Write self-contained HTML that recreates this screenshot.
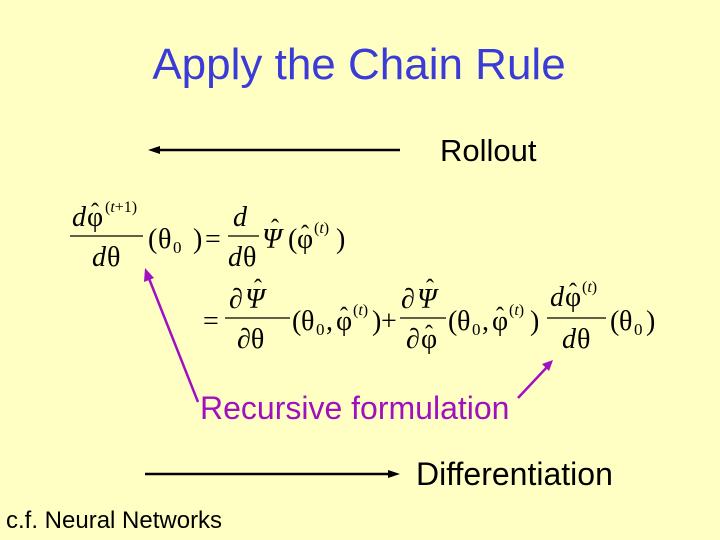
<!DOCTYPE html>
<html><head><meta charset="utf-8"><style>
html,body{margin:0;padding:0}
body{width:720px;height:540px;background:#FFFFC4;position:relative;overflow:hidden;font-family:"Liberation Sans",sans-serif}
.t{position:absolute;white-space:nowrap;line-height:1}
</style></head><body>
<div class="t" style="left:0;width:718px;text-align:center;top:43px;font-size:44px;color:#3B3BD8">Apply the Chain Rule</div>
<div class="t" style="left:440px;top:135px;font-size:31px;color:#000">Rollout</div>
<div class="t" style="left:200px;top:392px;font-size:32px;color:#A010C0">Recursive formulation</div>
<div class="t" style="left:416px;top:458px;font-size:32px;color:#000">Differentiation</div>
<div class="t" style="left:6px;top:509px;font-size:24px;color:#000">c.f. Neural Networks</div>
<svg width="720" height="540" style="position:absolute;left:0;top:0" font-family="Liberation Serif,serif" fill="#000">
<line x1="158" y1="150" x2="400" y2="150" stroke="#000" stroke-width="2.5"/>
<polygon points="148,150 160,146 160,154"/>
<line x1="145" y1="474" x2="390" y2="474" stroke="#000" stroke-width="2.5"/>
<polygon points="400,474 388,470 388,478"/>
<line x1="198" y1="402" x2="148" y2="276" stroke="#A010C0" stroke-width="2.5"/>
<polygon points="145,268 144,282 154,278" fill="#A010C0"/>
<line x1="518" y1="398" x2="548" y2="366" stroke="#A010C0" stroke-width="2.5"/>
<polygon points="553,360 542,364 549,371" fill="#A010C0"/>
<g font-size="28">
<!-- line 1 lhs -->
<text x="72" y="226" font-style="italic">d</text><text x="87" y="226">φ</text><text x="95" y="220" font-size="24" text-anchor="middle">ˆ</text>
<text x="105" y="212" font-size="16">(<tspan font-style="italic">t</tspan>+1)</text>
<line x1="70" y1="236" x2="143" y2="236" stroke="#000" stroke-width="1.3"/>
<text x="92" y="266" font-style="italic">d</text><text x="107" y="266">θ</text>
<text x="148" y="248">(</text><text x="158" y="248">θ</text><text x="173" y="253" font-size="17">0</text><text x="193" y="248">)</text>
<text x="205" y="248">=</text>
<text x="233" y="226" font-style="italic">d</text>
<line x1="228" y1="236" x2="259" y2="236" stroke="#000" stroke-width="1.3"/>
<text x="228" y="266" font-style="italic">d</text><text x="243" y="266">θ</text>
<text x="262" y="248" font-style="italic">Ψ</text><text x="275" y="236" font-size="24" text-anchor="middle">ˆ</text>
<text x="288" y="248">(</text><text x="297" y="248">φ</text><text x="305" y="242" font-size="24" text-anchor="middle">ˆ</text>
<text x="314" y="233" font-size="16">(<tspan font-style="italic">t</tspan>)</text><text x="336" y="248">)</text>
<!-- line 2 -->
<text x="203" y="330">=</text>
<text x="229" y="308">∂</text><text x="245" y="308" font-style="italic">Ψ</text><text x="258" y="296" font-size="24" text-anchor="middle">ˆ</text>
<line x1="225" y1="318" x2="290" y2="318" stroke="#000" stroke-width="1.3"/>
<text x="237" y="348">∂θ</text>
<text x="292" y="330">(</text><text x="301" y="330">θ</text><text x="316" y="335" font-size="17">0</text><text x="326" y="330">,</text><text x="336" y="330">φ</text><text x="344" y="324" font-size="24" text-anchor="middle">ˆ</text>
<text x="353" y="315" font-size="16">(<tspan font-style="italic">t</tspan>)</text><text x="372" y="330">)</text>
<text x="381" y="330">+</text>
<text x="401" y="308">∂</text><text x="417" y="308" font-style="italic">Ψ</text><text x="430" y="296" font-size="24" text-anchor="middle">ˆ</text>
<line x1="400" y1="318" x2="446" y2="318" stroke="#000" stroke-width="1.3"/>
<text x="406" y="348">∂</text><text x="421" y="348">φ</text><text x="429" y="342" font-size="24" text-anchor="middle">ˆ</text>
<text x="448" y="330">(</text><text x="457" y="330">θ</text><text x="472" y="335" font-size="17">0</text><text x="482" y="330">,</text><text x="492" y="330">φ</text><text x="500" y="324" font-size="24" text-anchor="middle">ˆ</text>
<text x="509" y="315" font-size="16">(<tspan font-style="italic">t</tspan>)</text><text x="530" y="330">)</text>
<text x="550" y="306" font-style="italic">d</text><text x="565" y="306">φ</text><text x="573" y="300" font-size="24" text-anchor="middle">ˆ</text>
<text x="582" y="292" font-size="16">(<tspan font-style="italic">t</tspan>)</text>
<line x1="547" y1="318" x2="606" y2="318" stroke="#000" stroke-width="1.3"/>
<text x="562" y="348" font-style="italic">d</text><text x="577" y="348">θ</text>
<text x="610" y="330">(</text><text x="619" y="330">θ</text><text x="634" y="335" font-size="17">0</text><text x="646" y="330">)</text>
</g>
</svg>
</body></html>
